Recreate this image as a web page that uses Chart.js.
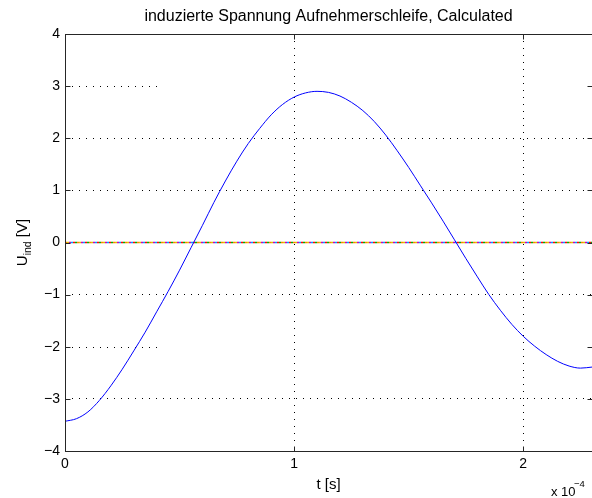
<!DOCTYPE html>
<html>
<head>
<meta charset="utf-8">
<script src="https://cdn.jsdelivr.net/npm/chart.js@4.4.1/dist/chart.umd.min.js"></script>
<style>
  html, body { margin: 0; padding: 0; background: #fff; }
  #wrap { width: 592px; height: 498px; }
</style>
</head>
<body>
<div id="wrap"><canvas id="chart" width="592" height="498"></canvas></div>
<script>
// Plot data (time in units of 1e-4 s, voltage in V)
const titleText = 'induzierte Spannung Aufnehmerschleife, Calculated'
const timeE4 = [0, 0.05, 0.1, 0.15, 0.2, 0.25, 0.3, 0.35, 0.4, 0.45, 0.5, 0.55, 0.6, 0.65, 0.7, 0.75,
  0.8, 0.85, 0.9, 0.95, 1.0, 1.05, 1.1, 1.15, 1.2, 1.25, 1.3, 1.35, 1.4, 1.45, 1.5, 1.55,
  1.6, 1.65, 1.7, 1.75, 1.8, 1.85, 1.9, 1.95, 2.0, 2.05, 2.1, 2.15, 2.2, 2.25, 2.3]
const uInd = [-3.43, -3.38, -3.25, -3.03, -2.75, -2.43, -2.08, -1.72, -1.33, -0.94, -0.53, -0.10, 0.33, 0.77, 1.18, 1.56,
  1.90, 2.19, 2.45, 2.65, 2.79, 2.87, 2.90, 2.88, 2.81, 2.69, 2.53, 2.32, 2.06, 1.76, 1.44, 1.10,
  0.76, 0.41, 0.05, -0.31, -0.66, -1.00, -1.30, -1.57, -1.80, -1.99, -2.15, -2.28, -2.37, -2.41, -2.39]
// the other channels all sit on zero
const zeroTimesE4 = [0, 2.3]
const zeroValues = [0, 0]
const zeroColors = ['#ff8000', '#00b000', '#ff0000', '#00a0ff', '#c000c0', '#e0c000']

const xTicks = [0, 1, 2]
const xMax = 2.3
const yMin = -4
const yMax = 4
// grid rows that are only drawn partly in the original
const partialRows = [3, -2]
const partialEnd = 0.423

const FONT = "'Liberation Sans', Arial, Helvetica, sans-serif"
const AXIS_COLOR = '#262626'

const toPoints = (xs, ys) => xs.map((x, i) => ({ x, y: ys[i] }))

const datasets = [{
  data: toPoints(timeE4, uInd),
  borderColor: '#0000ff',
  borderWidth: 1,
  pointRadius: 0,
  cubicInterpolationMode: 'monotone',
  fill: false
}]
zeroColors.forEach((c, i) => {
  datasets.push({
    data: toPoints(zeroTimesE4, zeroValues),
    borderColor: c,
    borderWidth: 1.5,
    borderDash: [2, 2 * (zeroColors.length - 1)],
    borderDashOffset: 2 * i,
    pointRadius: 0,
    fill: false
  })
})

// MATLAB-like frame: box, inward ticks, partial grid rows, texts
const matlabFrame = {
  id: 'matlabFrame',
  beforeDatasetsDraw(chart) {
    const { ctx, chartArea: a, scales: { x, y } } = chart
    ctx.save()
    ctx.strokeStyle = '#000'
    ctx.lineWidth = 1
    ctx.setLineDash([1, 6])
    partialRows.forEach(v => {
      const py = Math.round(y.getPixelForValue(v)) + 0.5
      ctx.beginPath()
      ctx.moveTo(a.left, py)
      ctx.lineTo(x.getPixelForValue(partialEnd), py)
      ctx.stroke()
    })
    ctx.restore()
  },
  afterDatasetsDraw(chart) {
    const { ctx, chartArea: a, scales: { x, y } } = chart
    const L = Math.round(a.left) + 0.5, R = Math.round(a.right) + 0.5
    const T = Math.round(a.top) + 0.5, B = Math.round(a.bottom) + 0.5
    ctx.save()
    ctx.strokeStyle = AXIS_COLOR
    ctx.lineWidth = 1
    ctx.strokeRect(L, T, R - L, B - T)
    ctx.beginPath()
    y.ticks.forEach(t => {
      const py = Math.round(y.getPixelForValue(t.value)) + 0.5
      ctx.moveTo(L, py); ctx.lineTo(L + 5, py)
      ctx.moveTo(R, py); ctx.lineTo(R - 5, py)
    })
    x.ticks.forEach(t => {
      const px = Math.round(x.getPixelForValue(t.value)) + 0.5
      ctx.moveTo(px, B); ctx.lineTo(px, B - 5)
      ctx.moveTo(px, T); ctx.lineTo(px, T + 5)
    })
    ctx.stroke()
    ctx.restore()
  },
  afterDraw(chart) {
    const { ctx, chartArea: a } = chart
    const cx = (a.left + a.right) / 2
    ctx.save()
    ctx.fillStyle = '#000'
    // title
    ctx.font = '16px ' + FONT
    ctx.textAlign = 'center'
    ctx.textBaseline = 'alphabetic'
    ctx.fillText(titleText, cx, 21)

    // y label with subscript
    const big = '15px ' + FONT, small = '10.5px ' + FONT
    ctx.font = big
    const wU = ctx.measureText('U').width
    const wV = ctx.measureText(' [V]').width
    ctx.font = small
    const wI = ctx.measureText('ind').width
    const total = wU + wI + wV
    ctx.translate(27, (a.top + a.bottom) / 2)
    ctx.rotate(-Math.PI / 2)
    ctx.textAlign = 'left'
    let sx = -total / 2
    ctx.font = big
    ctx.fillText('U', sx, 0); sx += wU
    ctx.font = small
    ctx.fillText('ind', sx, 4); sx += wI
    ctx.font = big
    ctx.fillText(' [V]', sx, 0)
    ctx.restore()

    // exponent of the x axis
    ctx.save()
    ctx.fillStyle = '#000'
    ctx.textAlign = 'left'
    ctx.font = '13px ' + FONT
    ctx.fillText('x 10', 551, 496)
    ctx.font = '9.5px ' + FONT
    ctx.fillText('\u22124', 574, 487)
    ctx.restore()
  }
}

new Chart(document.getElementById('chart'), {
  type: 'line',
  data: { datasets },
  plugins: [matlabFrame],
  options: {
    responsive: false,
    animation: false,
    devicePixelRatio: 1,
    layout: { padding: { top: 34, right: 0, bottom: 0, left: 0 } },
    plugins: { legend: { display: false }, tooltip: { enabled: false }, title: { display: false } },
    scales: {
      x: {
        type: 'linear',
        min: 0,
        max: xMax,
        afterBuildTicks: s => { s.ticks = xTicks.map(v => ({ value: v })) },
        afterFit: s => { s.height = 47 },
        ticks: {
          color: '#000',
          padding: 5,
          maxRotation: 0,
          font: { family: FONT, size: 14 },
          callback: v => String(v)
        },
        grid: { color: '#000', lineWidth: 1, drawTicks: false },
        border: { display: false, dash: [1, 6] },
        title: {
          display: true,
          text: 't [s]',
          color: '#000',
          font: { family: FONT, size: 15 },
          padding: { top: 4, bottom: 4 }
        }
      },
      y: {
        type: 'linear',
        min: yMin,
        max: yMax,
        afterFit: s => { s.width = 65 },
        ticks: {
          stepSize: 1,
          color: '#000',
          padding: 5,
          font: { family: FONT, size: 14 },
          callback: v => (v < 0 ? '\u2212' + Math.abs(v) : String(v))
        },
        grid: {
          lineWidth: 1,
          drawTicks: false,
          color: c => (c.tick && partialRows.includes(c.tick.value)) ? 'rgba(0,0,0,0)' : '#000'
        },
        border: { display: false, dash: [1, 6] }
      }
    }
  }
})
</script>
</body>
</html>
